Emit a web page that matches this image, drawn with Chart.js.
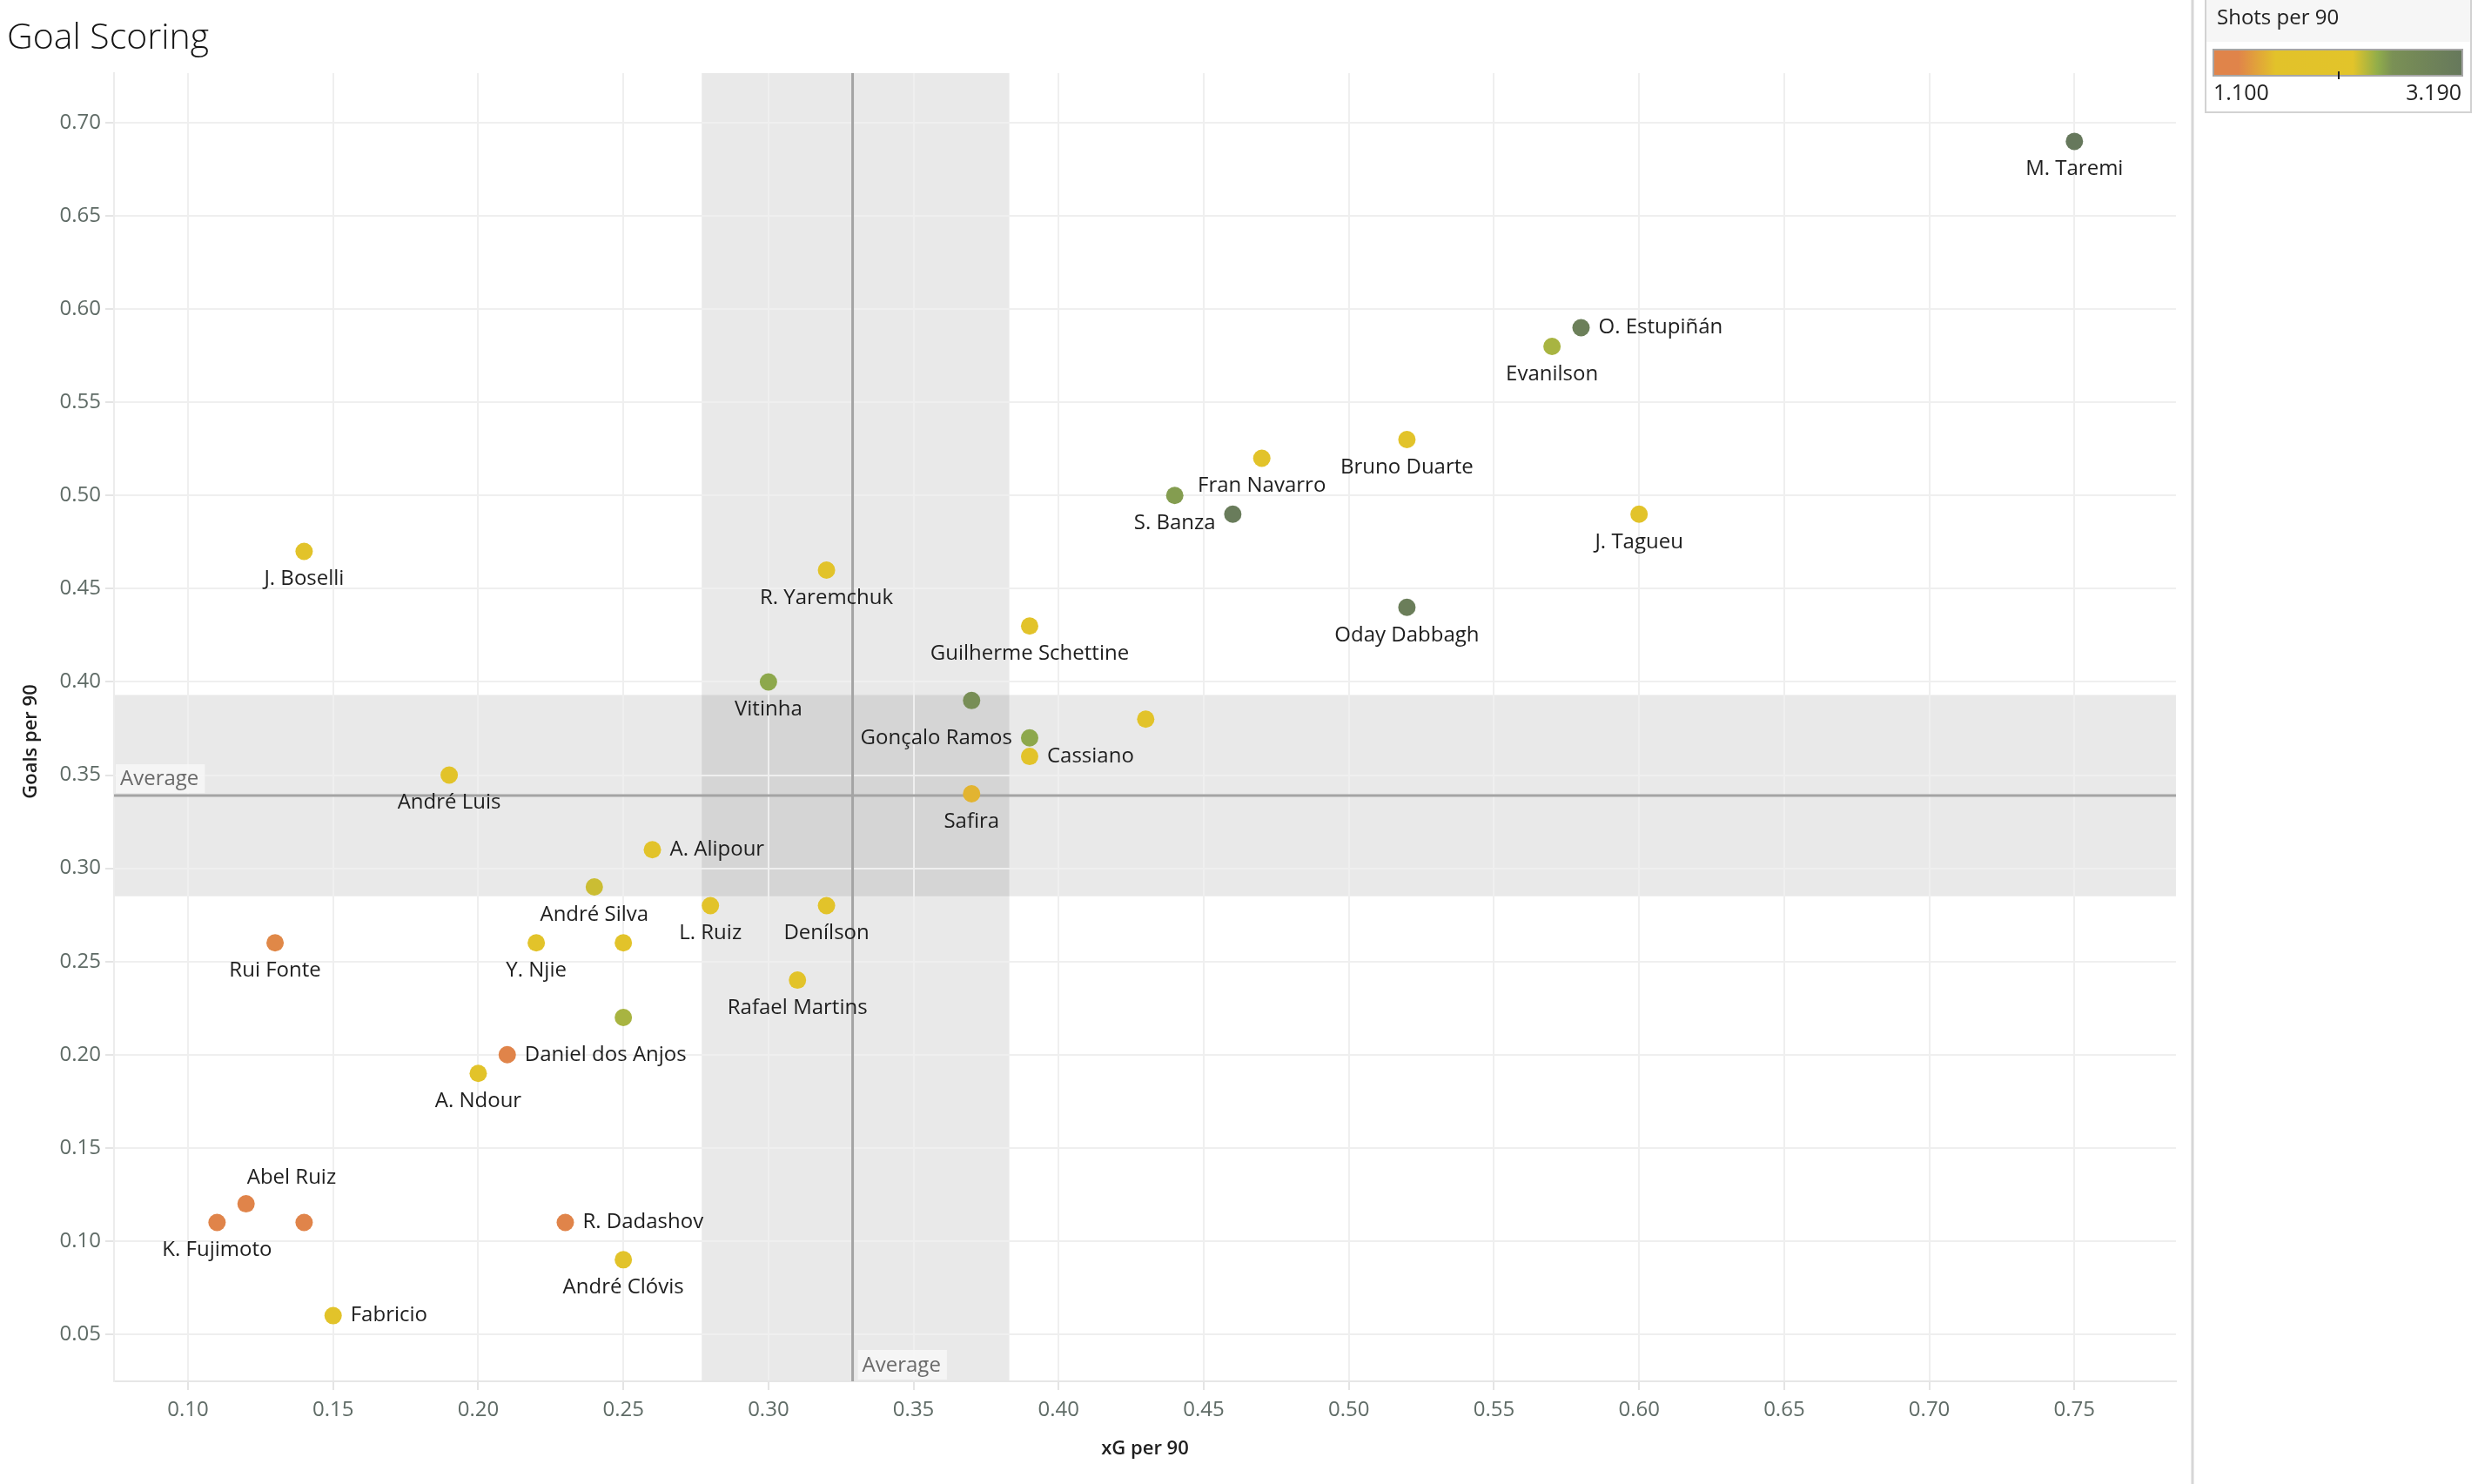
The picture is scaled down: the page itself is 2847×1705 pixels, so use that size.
<!DOCTYPE html>
<html>
<head>
<meta charset="utf-8">
<title>Goal Scoring</title>
<script src="https://cdn.jsdelivr.net/npm/chart.js@4.4.1/dist/chart.umd.min.js"></script>
<style>
    body { margin: 0; background: #fff; }
    canvas { display: block; }
</style>
</head>
<body>
<canvas id="chart" width="2847" height="1705"></canvas>
<script>
// one entry per player, "" = label hidden in the original
const players = ["M. Taremi", "O. Estupiñán", "Evanilson", "Bruno Duarte", "Fran Navarro", "S. Banza", "",
    "J. Tagueu", "Oday Dabbagh", "J. Boselli", "R. Yaremchuk", "Guilherme Schettine", "Vitinha", "",
    "Gonçalo Ramos", "Cassiano", "", "Safira", "André Luis", "A. Alipour", "André Silva", "L. Ruiz",
    "Denílson", "Rui Fonte", "Y. Njie", "", "Rafael Martins", "", "Daniel dos Anjos", "A. Ndour",
    "Abel Ruiz", "K. Fujimoto", "", "R. Dadashov", "André Clóvis", "Fabricio"];
const xgPer90 = [0.75, 0.58, 0.57, 0.52, 0.47, 0.44, 0.46, 0.60, 0.52, 0.14, 0.32, 0.39, 0.30, 0.37,
    0.39, 0.39, 0.43, 0.37, 0.19, 0.26, 0.24, 0.28, 0.32, 0.13, 0.22, 0.25, 0.31, 0.25, 0.21, 0.20,
    0.12, 0.11, 0.14, 0.23, 0.25, 0.15];
const goalsPer90 = [0.69, 0.59, 0.58, 0.53, 0.52, 0.50, 0.49, 0.49, 0.44, 0.47, 0.46, 0.43, 0.40, 0.39,
    0.37, 0.36, 0.38, 0.34, 0.35, 0.31, 0.29, 0.28, 0.28, 0.26, 0.26, 0.26, 0.24, 0.22, 0.20, 0.19,
    0.12, 0.11, 0.11, 0.11, 0.09, 0.06];
const shotsPer90 = [3.19, 3.0, 2.42, 1.95, 1.9, 2.55, 3.1, 1.95, 3.05, 1.9, 1.95, 1.9, 2.5, 2.65,
    2.5, 1.9, 1.95, 1.55, 1.9, 1.9, 2.33, 1.9, 1.9, 1.33, 1.95, 1.9, 1.85, 2.42, 1.2, 1.85,
    1.15, 1.1, 1.3, 1.15, 1.9, 1.9];

const xTicks = [0.10, 0.15, 0.20, 0.25, 0.30, 0.35, 0.40, 0.45, 0.50, 0.55, 0.60, 0.65, 0.70, 0.75];
const yTicks = [0.05, 0.10, 0.15, 0.20, 0.25, 0.30, 0.35, 0.40, 0.45, 0.50, 0.55, 0.60, 0.65, 0.70];

// reference lines and bands
const avgXg = 0.329;
const xgBand = [0.277, 0.383];
const avgGoals = 0.339;
const goalsBand = [0.285, 0.393];
const shotsRange = [1.100, 3.190];

// where the label sits relative to its point (default: below)
const LABEL_SIDE = {
    "O. Estupiñán": "right", "Cassiano": "right", "A. Alipour": "right",
    "Daniel dos Anjos": "right", "R. Dadashov": "right", "Fabricio": "right",
    "Gonçalo Ramos": "left", "Abel Ruiz": "above"
};

const FONT = "'Open Sans', 'Noto Sans', sans-serif";
const GRADIENT = [
    [0.00, [224, 132, 74]],
    [0.10, [224, 132, 74]],
    [0.25, [226, 194, 42]],
    [0.56, [226, 196, 42]],
    [0.66, [145, 173, 74]],
    [0.72, [122, 144, 85]],
    [1.00, [102, 120, 92]]
];


function colorFor(shots) {
    var f = (shots - shotsRange[0]) / (shotsRange[1] - shotsRange[0]);
    f = Math.max(0, Math.min(1, f));
    for (var i = 1; i < GRADIENT.length; i++) {
        if (f <= GRADIENT[i][0]) {
            var a = GRADIENT[i - 1], b = GRADIENT[i];
            var t = (f - a[0]) / ((b[0] - a[0]) || 1);
            var c = a[1].map((v, k) => Math.round(v + (b[1][k] - v) * t));
            return "rgb(" + c.join(",") + ")";
        }
    }
    return "rgb(" + GRADIENT[GRADIENT.length - 1][1].join(",") + ")";
}


const decor = {
    id: "decor",
    beforeDraw(chart) {
        // reference bands, drawn under the grid so the gridlines show through
        const ctx = chart.ctx, area = chart.chartArea;
        const xs = chart.scales.x, ys = chart.scales.y;
        ctx.save();
        ctx.fillStyle = "rgba(0,0,0,0.088)";
        var x0 = xs.getPixelForValue(xgBand[0]), x1 = xs.getPixelForValue(xgBand[1]);
        ctx.fillRect(x0, area.top, x1 - x0, area.bottom - area.top);
        var y0 = ys.getPixelForValue(goalsBand[1]), y1 = ys.getPixelForValue(goalsBand[0]);
        ctx.fillRect(area.left, y0, area.right - area.left, y1 - y0);
        ctx.restore();
    },
    beforeDatasetsDraw(chart) {
        const ctx = chart.ctx, area = chart.chartArea;
        const xs = chart.scales.x, ys = chart.scales.y;
        var ax = xs.getPixelForValue(avgXg), ay = ys.getPixelForValue(avgGoals);
        ctx.save();
        ctx.strokeStyle = "#a4a4a4";
        ctx.lineWidth = 3;
        ctx.beginPath();
        ctx.moveTo(ax, area.top);
        ctx.lineTo(ax, area.bottom);
        ctx.moveTo(area.left, ay);
        ctx.lineTo(area.right, ay);
        ctx.stroke();

        ctx.font = "24px " + FONT;
        ctx.textBaseline = "middle";
        ctx.textAlign = "left";
        var w = ctx.measureText("Average").width;
        ctx.fillStyle = "rgba(248,248,248,0.8)";
        ctx.fillRect(area.left + 2, ay - 36, w + 12, 33);
        ctx.fillRect(ax + 6, area.bottom - 36, w + 12, 34);
        ctx.fillStyle = "#6a6a6a";
        ctx.fillText("Average", area.left + 7, ay - 19);
        ctx.fillText("Average", ax + 11, area.bottom - 18);
        ctx.restore();
    },
    afterDatasetsDraw(chart) {
        const ctx = chart.ctx;
        const xs = chart.scales.x, ys = chart.scales.y;
        ctx.save();
        ctx.font = "24px " + FONT;
        ctx.fillStyle = "#1e1e1e";
        ctx.textBaseline = "middle";
        players.forEach((name, i) => {
            if (!name)
                return;
            var px = xs.getPixelForValue(xgPer90[i]);
            var py = ys.getPixelForValue(goalsPer90[i]);
            var side = LABEL_SIDE[name] || "below";
            if (side == "right") {
                ctx.textAlign = "left";
                ctx.fillText(name, px + 20, py);
            } else if (side == "left") {
                ctx.textAlign = "right";
                ctx.fillText(name, px - 20, py);
            } else if (side == "above") {
                ctx.textAlign = "left";
                ctx.fillText(name, px + 1, py - 30);
            } else {
                ctx.textAlign = "center";
                ctx.fillText(name, px, py + 32);
            }
        });
        ctx.restore();
    },
    afterDraw(chart) {
        const ctx = chart.ctx, area = chart.chartArea;
        ctx.save();
        // title
        ctx.fillStyle = "#151515";
        ctx.font = "300 41px " + FONT;
        ctx.textAlign = "left";
        ctx.textBaseline = "alphabetic";
        ctx.fillText("Goal Scoring", 8, 56);

        // axis titles
        ctx.font = "600 22px " + FONT;
        ctx.fillStyle = "#1e1e1e";
        ctx.textAlign = "center";
        ctx.textBaseline = "middle";
        ctx.fillText("xG per 90", (area.left + area.right) / 2, 1665);
        ctx.translate(36, 852);
        ctx.rotate(-Math.PI / 2);
        ctx.fillText("Goals per 90", 0, 0);
        ctx.restore();

        // right hand separator + colour legend
        ctx.save();
        ctx.strokeStyle = "#d6d6d6";
        ctx.lineWidth = 3;
        ctx.beginPath();
        ctx.moveTo(2519, 0);
        ctx.lineTo(2519, 1705);
        ctx.stroke();

        ctx.fillStyle = "#f6f6f6";
        ctx.fillRect(2534, 0, 305, 48);
        ctx.lineWidth = 2;
        ctx.strokeStyle = "#d2d2d2";
        ctx.strokeRect(2534, -2, 305, 131);

        ctx.fillStyle = "#222";
        ctx.font = "24px " + FONT;
        ctx.textAlign = "left";
        ctx.textBaseline = "middle";
        ctx.fillText("Shots per 90", 2547, 21);

        var gx = 2543, gw = 286, gy = 57, gh = 30;
        var grad = ctx.createLinearGradient(gx, 0, gx + gw, 0);
        GRADIENT.forEach(s => grad.addColorStop(s[0], "rgb(" + s[1].join(",") + ")"));
        ctx.fillStyle = grad;
        ctx.fillRect(gx, gy, gw, gh);
        ctx.strokeStyle = "#a6a6a6";
        ctx.strokeRect(gx, gy, gw, gh);

        ctx.strokeStyle = "#222";
        ctx.beginPath();
        ctx.moveTo(2687, gy + gh - 5);
        ctx.lineTo(2687, gy + gh + 4);
        ctx.stroke();

        ctx.fillStyle = "#222";
        ctx.font = "25px " + FONT;
        ctx.fillText(shotsRange[0].toFixed(3), gx, 108);
        ctx.textAlign = "right";
        ctx.fillText(shotsRange[1].toFixed(3), gx + gw - 1, 108);
        ctx.restore();
    }
};


const tickFont = { family: FONT, size: 24 };

new Chart(document.getElementById("chart"), {
    type: "scatter",
    data: {
        datasets: [{
            data: xgPer90.map((x, i) => ({ x: x, y: goalsPer90[i] })),
            pointBackgroundColor: shotsPer90.map(colorFor),
            pointBorderWidth: 0,
            pointRadius: 10,
            pointHoverRadius: 10
        }]
    },
    options: {
        responsive: false,
        animation: false,
        layout: { padding: { top: 84, right: 347, left: 0, bottom: 0 } },
        plugins: {
            legend: { display: false },
            tooltip: { enabled: false }
        },
        scales: {
            x: {
                type: "linear",
                min: 0.0745,
                max: 0.785,
                afterBuildTicks: s => { s.ticks = xTicks.map(v => ({ value: v })); },
                afterFit: s => { s.height = 118; },
                grid: { color: "#efefef", lineWidth: 2, tickLength: 10, tickColor: "#e4e4e4" },
                border: { color: "#e6e6e6", width: 2 },
                ticks: {
                    font: tickFont, color: "#5f6b66", padding: 9, maxRotation: 0, autoSkip: false,
                    callback: v => v.toFixed(2)
                }
            },
            y: {
                type: "linear",
                min: 0.0248,
                max: 0.7266,
                afterBuildTicks: s => { s.ticks = yTicks.map(v => ({ value: v })); },
                afterFit: s => { s.width = 131; },
                grid: { color: "#efefef", lineWidth: 2, tickLength: 10, tickColor: "#e4e4e4" },
                border: { color: "#ececec", width: 2 },
                ticks: {
                    font: tickFont, color: "#5f6b66", padding: 5, autoSkip: false,
                    callback: v => v.toFixed(2)
                }
            }
        }
    },
    plugins: [decor]
});
</script>
</body>
</html>
